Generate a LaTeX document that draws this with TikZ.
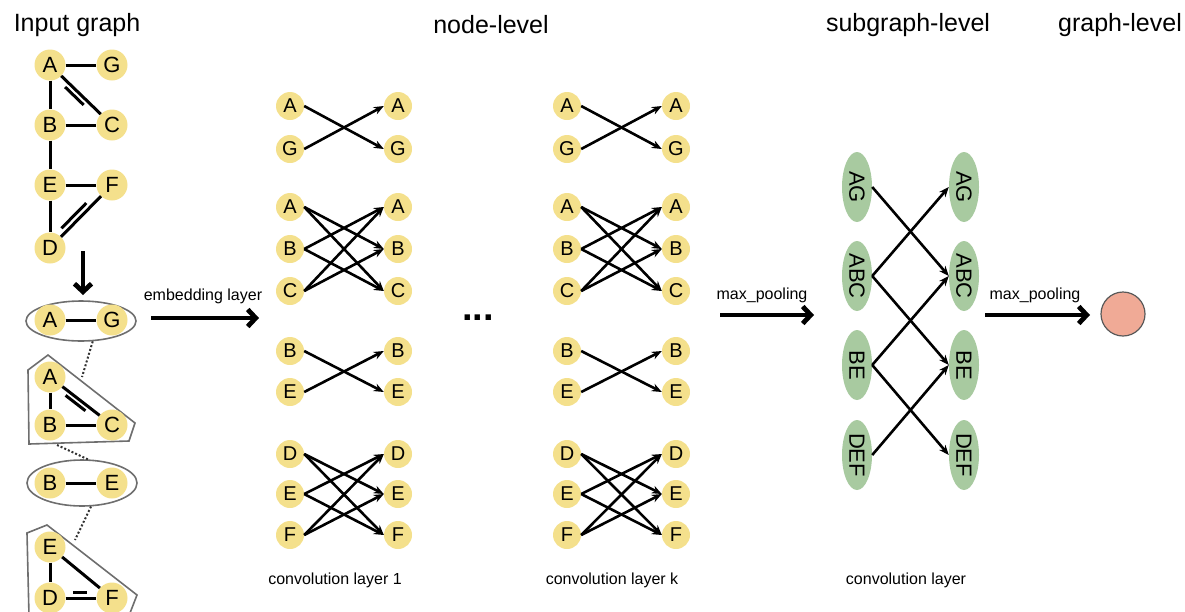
\documentclass[tikz,border=0pt]{standalone}
\usepackage{fontspec}
\usepackage{graphicx}
\setmainfont{Liberation Sans}
\usetikzlibrary{arrows.meta,shapes.geometric,calc}

\definecolor{nodeyellow}{RGB}{244,224,140}
\definecolor{subgreen}{RGB}{168,202,160}
\definecolor{poolred}{RGB}{240,170,150}
\definecolor{hullgray}{RGB}{110,110,110}

\newcommand\fs[1]{\fontsize{#1}{#1}\selectfont}

% one fully connected block of a convolution layer:
% #1 name prefix, #2 x of inputs, #3 x of outputs, #4 list label/y
\newcommand\cgroup[4]{%
  \foreach \n/\y in {#4}{
    \node[cnode] (#1\n-l) at (#2,\y) {\n};
    \node[cnode] (#1\n-r) at (#3,\y) {\n};
  }
  \foreach \n/\y in {#4}{
    \foreach \m/\z in {#4}{
      \ifx\n\m\else\draw[convarrow] (#1\n-l.east) -- (#1\m-r.west);\fi
    }
  }
}

\begin{document}
\begin{tikzpicture}[x=1pt,y=-1pt,
  gnode/.style={circle,fill=nodeyellow,minimum size=31pt,inner sep=0pt,font=\fs{22}},
  cnode/.style={circle,fill=nodeyellow,minimum size=28pt,inner sep=0pt,font=\fs{20}},
  snode/.style={ellipse,fill=subgreen,minimum width=30pt,minimum height=70pt,inner sep=0pt,font=\fs{22}},
  edge/.style={line width=3pt},
  convarrow/.style={line width=2.6pt,-{Stealth[length=10pt,width=8pt]}},
  bigarrow/.style={line width=4.8pt,-{Straight Barb[length=8pt,width=17pt]}},
  hull/.style={draw=hullgray,line width=1.6pt},
  link/.style={dotted,line width=2pt,draw=black!80},
  title/.style={font=\fs{25}},
  caption/.style={font=\fs{16}},
]
\useasboundingbox (0,0) rectangle (1185,611);

% ---------- titles ----------
\node[title] (tIn)  at (77,25)   {Input graph};
\node[title] (tNode) at (491,25) {node-level};
\node[title] (tSub) at (908,25)  {subgraph-level};
\node[title] (tGr)  at (1120,25) {graph-level};

% ---------- input graph ----------
\node[gnode] (gA) at (50,65)  {A};
\node[gnode] (gG) at (112,65) {G};
\node[gnode] (gB) at (50,125) {B};
\node[gnode] (gC) at (112,125) {C};
\node[gnode] (gE) at (50,185) {E};
\node[gnode] (gF) at (112,185) {F};
\node[gnode] (gD) at (50,248) {D};
\draw[edge] (gA) -- (gG);
\draw[edge] (gA) -- (gB);
\draw[edge] (gB) -- (gC);
\draw[edge] (gB) -- (gE);
\draw[edge] (gE) -- (gF);
\draw[edge] (gE) -- (gD);
\draw[edge] (gA) -- (gC);
\draw[edge] ($(gA)!0.3!(gC)+(-3.5,4)$) -- ($(gA)!0.6!(gC)+(-3.5,4)$);
\draw[edge] (gD) -- (gF);
\draw[edge] ($(gD)!0.25!(gF)+(-4,-4)$) -- ($(gD)!0.65!(gF)+(-4,-4)$);

\coordinate (dTop) at (83,251);
\coordinate (dBot) at (83,295);
\draw[bigarrow] (dTop) -- (dBot);

% ---------- decomposition into subgraphs ----------
\node[hull,ellipse,minimum width=110pt,minimum height=40pt,inner sep=0pt] (e1) at (81,321) {};
\node[hull,ellipse,minimum width=110pt,minimum height=46pt,inner sep=0pt] (e2) at (82,483) {};
\draw[hull] (28,370) -- (48,355) -- (135,423) -- (129,441) -- (29,444) -- cycle;
\draw[hull] (27,533) -- (47,525) -- (137,595) -- (130,613) -- (29,616) -- cycle;

\coordinate (h1top) at (82,377);
\coordinate (h1bot) at (57,445);
\coordinate (h2top) at (75,540);
\draw[link] (e1.-60) -- (h1top);
\draw[link] (h1bot) -- (e2.76);
\draw[link] (e2.-69) -- (h2top);

% A-G
\node[gnode] (s1A) at (50,320) {A};
\node[gnode] (s1G) at (112,320) {G};
\draw[edge] (s1A) -- (s1G);
% A-B-C
\node[gnode] (s2A) at (50,377) {A};
\node[gnode] (s2B) at (50,425) {B};
\node[gnode] (s2C) at (112,425) {C};
\draw[edge] (s2A) -- (s2B);
\draw[edge] (s2B) -- (s2C);
\draw[edge] (s2A) -- (s2C);
\draw[edge] ($(s2A)!0.3!(s2C)+(-3,4)$) -- ($(s2A)!0.62!(s2C)+(-3,4)$);
% B-E
\node[gnode] (s3B) at (50,483) {B};
\node[gnode] (s3E) at (112,483) {E};
\draw[edge] (s3B) -- (s3E);
% D-E-F
\node[gnode] (s4E) at (50,547) {E};
\node[gnode] (s4D) at (50,598) {D};
\node[gnode] (s4F) at (112,598) {F};
\draw[edge] (s4E) -- (s4D);
\draw[edge] (s4E) -- (s4F);
\draw[edge] (s4D) -- (s4F);
\draw[edge] ($(s4D)!0.37!(s4F)+(0,-6)$) -- ($(s4D)!0.6!(s4F)+(0,-6)$);

% ---------- embedding ----------
\coordinate (embS) at (151,318);
\coordinate (embE) at (259,318);
\draw[bigarrow] (embS) -- (embE);
\node[caption] (embT) at (203,296) {embedding layer};

% ---------- node-level convolutions ----------
\cgroup{1a}{290}{398}{A/106,G/149}
\cgroup{1b}{290}{398}{A/207,B/249,C/291}
\cgroup{1c}{290}{398}{B/351,E/392}
\cgroup{1d}{290}{398}{D/454,E/494,F/535}
\node[caption] (cap1) at (335,580) {convolution layer 1};

\node[font=\fs{38}\bfseries] (dots) at (478,318) {...};

\cgroup{ka}{567}{676}{A/106,G/149}
\cgroup{kb}{567}{676}{A/207,B/249,C/291}
\cgroup{kc}{567}{676}{B/351,E/392}
\cgroup{kd}{567}{676}{D/454,E/494,F/535}
\node[caption] (capk) at (612,580) {convolution layer k};

% ---------- pooling to subgraphs ----------
\coordinate (mp1S) at (720,315);
\coordinate (mp1E) at (814,315);
\draw[bigarrow] (mp1S) -- (mp1E);
\node[caption] (mp1T) at (762,295) {max\_pooling};

% ---------- subgraph-level convolution ----------
\foreach \s/\y in {AG/187,ABC/276,BE/365,DEF/455}{
  \node[snode] (s\s-l) at (857,\y) {\rotatebox{-90}{\s}};
  \node[snode] (s\s-r) at (964,\y) {\rotatebox{-90}{\s}};
}
\draw[convarrow] (sAG-l.east) -- (sABC-r.west);
\draw[convarrow] (sABC-l.east) -- (sAG-r.west);
\draw[convarrow] (sABC-l.east) -- (sBE-r.west);
\draw[convarrow] (sBE-l.east) -- (sABC-r.west);
\draw[convarrow] (sBE-l.east) -- (sDEF-r.west);
\draw[convarrow] (sDEF-l.east) -- (sBE-r.west);
\node[caption] (capS) at (906,580) {convolution layer};

% ---------- pooling to graph ----------
\coordinate (mp2S) at (985,315);
\coordinate (mp2E) at (1090,315);
\draw[bigarrow] (mp2S) -- (mp2E);
\node[caption] (mp2T) at (1035,295) {max\_pooling};
\node[circle,fill=poolred,draw=black!65,line width=1.2pt,minimum size=44pt] (out) at (1123,314) {};

\end{tikzpicture}
\end{document}
